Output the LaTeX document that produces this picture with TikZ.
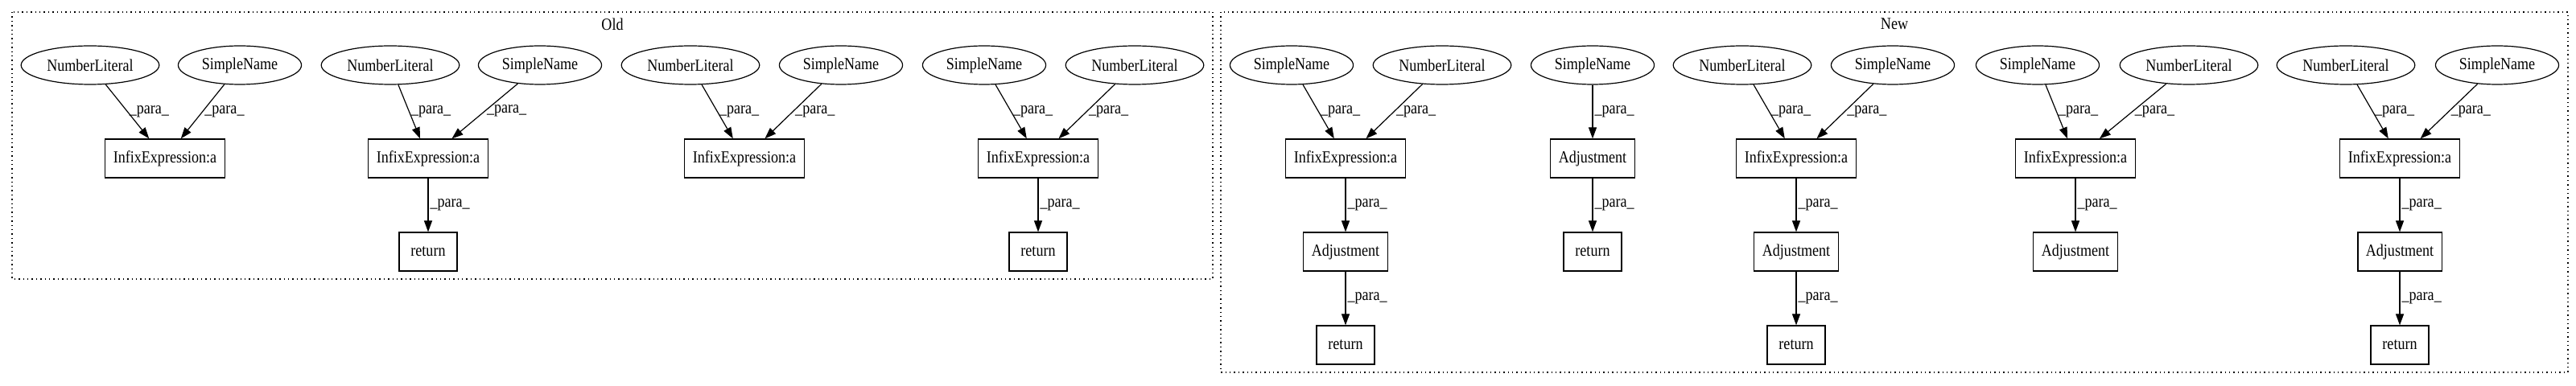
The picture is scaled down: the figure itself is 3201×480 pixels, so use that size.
\documentclass[tikz,border=0pt]{standalone}
\usepackage{fontspec}
\setmainfont{Liberation Serif}[FakeStretch=0.86]
\usetikzlibrary{arrows.meta,shapes,positioning}
\tikzstyle{lit} = [draw,ellipse,inner xsep=3.5pt,minimum height=24pt,line width=0.6pt]
\tikzstyle{stmt} = [draw,rectangle,inner xsep=5pt,minimum height=24pt,minimum width=36pt,line width=0.6pt]
\tikzstyle{para} = [-{Triangle[length=7pt,width=5pt]},line width=0.6pt]
\tikzstyle{lab} = [right,inner sep=1pt]
\tikzstyle{cluster} = [dotted,line width=0.7pt]

\begin{document}
\begin{tikzpicture}[x=0.5pt,y=-0.5pt,font=\fontsize{10.5}{12}\selectfont]
		\useasboundingbox (0,0) rectangle (3201,480);
		% clusters
		\draw[cluster] (15,15) rectangle (1507,347);
		\draw[cluster] (1517,15) rectangle (3191,463);
		\node (old) at (761,30) {Old};
		\node (new) at (2354,30) {New};
		
		% old
		\node[lit] (nl1) at (112,81) {NumberLiteral};
		\node[lit] (sn1) at (298,81) {SimpleName};
		\node[stmt] (ix1) at (205,197) {InfixExpression:a};
		\node[lit] (nl2) at (485,81) {NumberLiteral};
		\node[lit] (sn2) at (671,81) {SimpleName};
		\node[stmt] (ix2) at (532,197) {InfixExpression:a};
		\node[stmt] (ret1) at (532,313) {return};
		\node[lit] (nl3) at (858,81) {NumberLiteral};
		\node[lit] (sn3) at (1045,81) {SimpleName};
		\node[stmt] (ix3) at (925,197) {InfixExpression:a};
		\node[lit] (sn4) at (1223,81) {SimpleName};
		\node[lit] (nl4) at (1410,81) {NumberLiteral};
		\node[stmt] (ix4) at (1290,197) {InfixExpression:a};
		\node[stmt] (ret2) at (1290,313) {return};
		
		\draw[para] (nl1) to node[lab] {\_para\_} (ix1);
		\draw[para] (sn1) to node[lab] {\_para\_} (ix1);
		\draw[para] (nl2) to node[lab] {\_para\_} (ix2);
		\draw[para] (sn2) to node[lab] {\_para\_} (ix2);
		\draw[para] (ix2) to node[lab] {\_para\_} (ret1);
		\draw[para] (nl3) to node[lab] {\_para\_} (ix3);
		\draw[para] (sn3) to node[lab] {\_para\_} (ix3);
		\draw[para] (sn4) to node[lab] {\_para\_} (ix4);
		\draw[para] (nl4) to node[lab] {\_para\_} (ix4);
		\draw[para] (ix4) to node[lab] {\_para\_} (ret2);
		
		% new
		\node[lit] (sn5) at (1605,81) {SimpleName};
		\node[lit] (nl5) at (1792,81) {NumberLiteral};
		\node[stmt] (ix5) at (1672,197) {InfixExpression:a};
		\node[stmt] (adj1) at (1672,313) {Adjustment};
		\node[stmt] (ret3) at (1672,429) {return};
		\node[lit] (sn6) at (1979,81) {SimpleName};
		\node[stmt] (adj2) at (1979,197) {Adjustment};
		\node[stmt] (ret4) at (1979,313) {return};
		\node[lit] (nl6) at (2165,81) {NumberLiteral};
		\node[lit] (sn7) at (2352,81) {SimpleName};
		\node[stmt] (ix6) at (2232,197) {InfixExpression:a};
		\node[stmt] (adj3) at (2232,313) {Adjustment};
		\node[stmt] (ret5) at (2232,429) {return};
		\node[lit] (sn8) at (2532,81) {SimpleName};
		\node[lit] (nl7) at (2720,81) {NumberLiteral};
		\node[stmt] (ix7) at (2579,197) {InfixExpression:a};
		\node[stmt] (adj4) at (2579,313) {Adjustment};
		\node[lit] (nl8) at (2915,81) {NumberLiteral};
		\node[lit] (sn9) at (3103,81) {SimpleName};
		\node[stmt] (ix8) at (2982,197) {InfixExpression:a};
		\node[stmt] (adj5) at (2982,313) {Adjustment};
		\node[stmt] (ret6) at (2982,429) {return};
		
		\draw[para] (sn5) to node[lab] {\_para\_} (ix5);
		\draw[para] (nl5) to node[lab] {\_para\_} (ix5);
		\draw[para] (ix5) to node[lab] {\_para\_} (adj1);
		\draw[para] (adj1) to node[lab] {\_para\_} (ret3);
		\draw[para] (sn6) to node[lab] {\_para\_} (adj2);
		\draw[para] (adj2) to node[lab] {\_para\_} (ret4);
		\draw[para] (nl6) to node[lab] {\_para\_} (ix6);
		\draw[para] (sn7) to node[lab] {\_para\_} (ix6);
		\draw[para] (ix6) to node[lab] {\_para\_} (adj3);
		\draw[para] (adj3) to node[lab] {\_para\_} (ret5);
		\draw[para] (sn8) to node[lab] {\_para\_} (ix7);
		\draw[para] (nl7) to node[lab] {\_para\_} (ix7);
		\draw[para] (ix7) to node[lab] {\_para\_} (adj4);
		\draw[para] (nl8) to node[lab] {\_para\_} (ix8);
		\draw[para] (sn9) to node[lab] {\_para\_} (ix8);
		\draw[para] (ix8) to node[lab] {\_para\_} (adj5);
		\draw[para] (adj5) to node[lab] {\_para\_} (ret6);
	\end{tikzpicture}
\end{document}
